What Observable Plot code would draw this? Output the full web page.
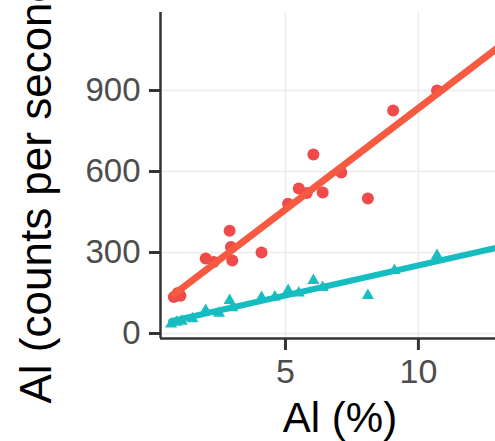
<!DOCTYPE html>
<html><head><meta charset="utf-8">
<script src="https://cdn.jsdelivr.net/npm/d3@7"></script>
<script src="https://cdn.jsdelivr.net/npm/@observablehq/plot@0.6"></script>
<style>body{margin:0;background:#fff}</style></head>
<body><div id="chart"></div>
<script>
// Red series (circles)
const redX = [0.8, 0.95, 1.05, 2.0, 2.3, 2.9, 2.95, 3.0, 4.1, 5.1, 5.5, 5.8, 6.05, 6.4, 7.1, 8.1, 9.05, 10.7, 13.5, 14.0];
const redY = [135, 150, 140, 278, 265, 381, 320, 270, 300, 481, 537, 520, 663, 522, 596, 500, 826, 900, 1110, 1150];
// Teal series (triangles)
const tealX = [0.7, 0.9, 1.1, 1.5, 2.0, 2.5, 2.9, 3.0, 4.1, 4.6, 5.1, 5.5, 6.05, 6.4, 8.1, 9.1, 10.7, 13.5, 14.0];
const tealY = [35, 42, 45, 55, 85, 75, 122, 95, 133, 135, 159, 150, 196, 170, 141, 233, 289, 330, 340];
const xTicks = [5, 10];
const yTicks = [0, 300, 600, 900];
const xTitle = "Al (%)";
const yTitle = "Al (counts per second)";

const red = redX.map((x, i) => ({x, y: redY[i]}));
const teal = tealX.map((x, i) => ({x, y: tealY[i]}));
const xDom = [0.3, 12.9], yDom = [-18.5, 1189];

const chart = Plot.plot({
  width: 495, height: 441,
  marginLeft: 160, marginRight: 0, marginTop: 12, marginBottom: 103,
  style: {fontFamily: "'Liberation Sans', Arial, sans-serif", background: "#fff"},
  x: {domain: xDom},
  y: {domain: yDom},
  marks: [
    Plot.gridY(yTicks, {stroke: "#ebebeb", strokeOpacity: 1, strokeWidth: 1.5}),
    Plot.gridX(xTicks, {stroke: "#ebebeb", strokeOpacity: 1, strokeWidth: 1.5}),
    Plot.dot(red, {x: "x", y: "y", r: 6, fill: "#F04A4A", clip: true}),
    Plot.dot(teal, {x: "x", y: "y", r: 4.5, symbol: "triangle", fill: "#19BFC0", clip: true}),
    Plot.linearRegressionY(red, {x: "x", y: "y", stroke: "#F65A40", strokeWidth: 7, ci: 0, clip: true}),
    Plot.linearRegressionY(teal, {x: "x", y: "y", stroke: "#16BDC0", strokeWidth: 6, ci: 0, clip: true}),
    Plot.ruleX([xDom[0]], {stroke: "#333", strokeWidth: 2.5}),
    Plot.ruleY([yDom[0]], {stroke: "#333", strokeWidth: 2.5}),
    Plot.axisX(xTicks, {tickSize: 12, tickPadding: 8, fontSize: 34, strokeWidth: 3, stroke: "#333", fill: "#4d4d4d", label: null}),
    Plot.axisY(yTicks, {tickSize: 11, tickPadding: 9, fontSize: 33, strokeWidth: 3, stroke: "#333", fill: "#4d4d4d", label: null}),
    Plot.text([xTitle], {frameAnchor: "bottom", dx: 12, dy: 93, fontSize: 42, fill: "#000"}),
    Plot.text([yTitle], {frameAnchor: "bottom-left", rotate: -90, textAnchor: "start", dx: -110, dy: 65, fontSize: 44, fill: "#000"})
  ]
});
document.getElementById("chart").appendChild(chart);
</script>
</body></html>
